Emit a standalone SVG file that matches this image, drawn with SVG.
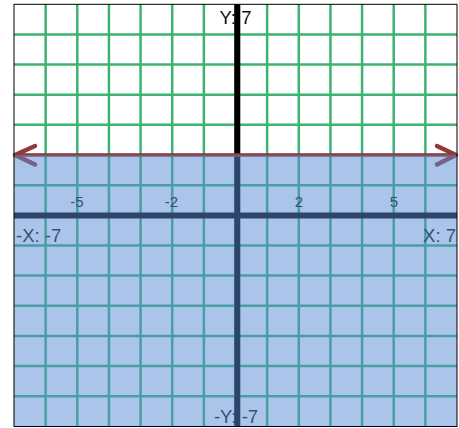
<svg xmlns="http://www.w3.org/2000/svg" width="459" height="428" viewBox="0 0 459 428">
<style>
.grid line{stroke:#3cb371;stroke-width:2.5}
.axis{stroke:#000;stroke-width:6}
.lbl{font-family:"Liberation Sans",Arial,sans-serif;fill:#111}
.big{font-size:18.5px}
.tick{font-size:15px;text-anchor:middle}
.ln{stroke:#923a3a;fill:none;stroke-linecap:round;stroke-linejoin:round}
</style>
<rect width="459" height="428" fill="#fff"/>
<g id="grid" class="grid">
<line x1="45.64" y1="4.3" x2="45.64" y2="426.5"/>
<line x1="77.29" y1="4.3" x2="77.29" y2="426.5"/>
<line x1="108.93" y1="4.3" x2="108.93" y2="426.5"/>
<line x1="140.57" y1="4.3" x2="140.57" y2="426.5"/>
<line x1="172.21" y1="4.3" x2="172.21" y2="426.5"/>
<line x1="203.86" y1="4.3" x2="203.86" y2="426.5"/>
<line x1="235.5" y1="4.3" x2="235.5" y2="426.5"/>
<line x1="267.14" y1="4.3" x2="267.14" y2="426.5"/>
<line x1="298.79" y1="4.3" x2="298.79" y2="426.5"/>
<line x1="330.43" y1="4.3" x2="330.43" y2="426.5"/>
<line x1="362.07" y1="4.3" x2="362.07" y2="426.5"/>
<line x1="393.71" y1="4.3" x2="393.71" y2="426.5"/>
<line x1="425.36" y1="4.3" x2="425.36" y2="426.5"/>
<line x1="14" y1="34.4" x2="457" y2="34.4"/>
<line x1="14" y1="64.55" x2="457" y2="64.55"/>
<line x1="14" y1="94.7" x2="457" y2="94.7"/>
<line x1="14" y1="124.85" x2="457" y2="124.85"/>
<line x1="14" y1="155" x2="457" y2="155"/>
<line x1="14" y1="185.15" x2="457" y2="185.15"/>
<line x1="14" y1="245.45" x2="457" y2="245.45"/>
<line x1="14" y1="275.6" x2="457" y2="275.6"/>
<line x1="14" y1="305.75" x2="457" y2="305.75"/>
<line x1="14" y1="335.9" x2="457" y2="335.9"/>
<line x1="14" y1="366.05" x2="457" y2="366.05"/>
<line x1="14" y1="396.2" x2="457" y2="396.2"/>
</g>
<g id="labels" class="lbl">
<text class="big" x="235.5" y="24" text-anchor="middle">Y: 7</text>
<text class="big" x="236" y="423" text-anchor="middle">-Y: -7</text>
<text class="big" x="16" y="241.5">-X: -7</text>
<text class="big" x="456" y="241.5" text-anchor="end">X: 7</text>
<text class="tick" x="77" y="206.5">-5</text>
<text class="tick" x="171.5" y="206.5">-2</text>
<text class="tick" x="298.8" y="206.5">2</text>
<text class="tick" x="394" y="206.5">5</text>
</g>
<g id="axes">
<line class="axis" x1="237.3" y1="4.3" x2="237.3" y2="426.5"/>
<line class="axis" x1="14" y1="215.5" x2="457" y2="215.5"/>
</g>
<g id="line-y2">
<line class="ln" x1="15" y1="155" x2="456" y2="155" stroke-width="3.5"/>
<polyline class="ln" points="35,146 15,155 35,164.5" stroke-width="4.5"/>
<polyline class="ln" points="437,146 456,155 437,164.5" stroke-width="4.5"/>
</g>
<rect id="region" x="14" y="155" width="443" height="271.5" fill="rgb(85,137,213)" fill-opacity="0.5"/>
<rect id="frame" x="14" y="4.3" width="443" height="422.2" fill="none" stroke="#000" stroke-width="1"/>
</svg>
